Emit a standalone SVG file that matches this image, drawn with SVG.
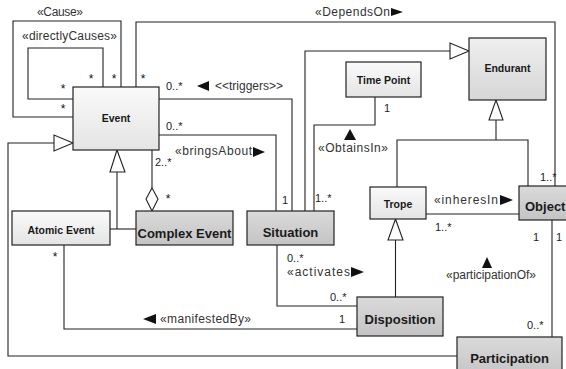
<svg xmlns="http://www.w3.org/2000/svg" width="566" height="369" viewBox="0 0 566 369">
  <defs>
    <linearGradient id="gLight" x1="0" y1="0" x2="0" y2="1">
      <stop offset="0" stop-color="#fafafa"/>
      <stop offset="1" stop-color="#e4e4e4"/>
    </linearGradient>
    <linearGradient id="gMid" x1="0" y1="0" x2="0" y2="1">
      <stop offset="0" stop-color="#efefef"/>
      <stop offset="1" stop-color="#d6d6d6"/>
    </linearGradient>
    <linearGradient id="gDark" x1="0" y1="0" x2="0" y2="1">
      <stop offset="0" stop-color="#dadada"/>
      <stop offset="1" stop-color="#c4c4c4"/>
    </linearGradient>
    <style>
      .box { stroke: #222; stroke-width: 1.2; }
      .light { fill: url(#gLight); }
      .mid { fill: url(#gMid); }
      .dark { fill: url(#gDark); }
      .wire { fill: none; stroke: #222; stroke-width: 1.1; }
      .hollow { fill: #fff; stroke: #222; stroke-width: 1.1; }
      .dir { fill: #111; }
      .nm { font-family: "Liberation Sans", Arial, sans-serif; font-weight: bold; fill: #1a1a1a; text-anchor: middle; }
      .sm { font-size: 10.5px; }
      .lg { font-size: 13px; }
      .lbl { font-family: "Liberation Sans", Arial, sans-serif; font-size: 12px; fill: #333; }
      .mul { font-family: "Liberation Sans", Arial, sans-serif; font-size: 11px; fill: #222; }
      .ast { font-family: "Liberation Sans", Arial, sans-serif; font-size: 12px; fill: #111; text-anchor: middle; }
    </style>
  </defs>
  <rect width="566" height="369" fill="#fff"/>

  <!-- connectors -->
  <g id="connectors">
    <!-- Cause self-association -->
    <polyline class="wire" points="121,87 121,21 13,21 13,117 73,117"/>
    <!-- directlyCauses self-association -->
    <polyline class="wire" points="103,87 103,48 28,48 28,99 73,99"/>
    <!-- DependsOn -->
    <polyline class="wire" points="136,87 136,22 555,22 555,186"/>
    <!-- triggers -->
    <polyline class="wire" points="159,99 292,99 292,211"/>
    <!-- bringsAbout -->
    <polyline class="wire" points="159,135 276,135 276,211"/>
    <!-- Situation generalizes to Endurant -->
    <polyline class="wire" points="305,211 305,51 450,51"/>
    <polygon class="hollow" points="469,51 450,43 450,59"/>
    <!-- ObtainsIn -->
    <polyline class="wire" points="314,211 314,125 375,125 375,97"/>
    <!-- Trope / Object generalize to Endurant -->
    <polygon class="hollow" points="496,100 489,120 503,120"/>
    <polyline class="wire" points="496,120 496,140"/>
    <polyline class="wire" points="397,187 397,140 528,140 528,186"/>
    <!-- inheresIn -->
    <line class="wire" x1="426" y1="214" x2="519" y2="214"/>
    <!-- Disposition generalizes to Trope -->
    <polygon class="hollow" points="395.5,219 388,240 403,240"/>
    <line class="wire" x1="395.5" y1="240" x2="395.5" y2="297"/>
    <!-- activates -->
    <polyline class="wire" points="277,245 277,306 357,306"/>
    <!-- manifestedBy -->
    <polyline class="wire" points="64,245 64,329 357,329"/>
    <!-- Participation generalizes to Event -->
    <polyline class="wire" points="457,356 8,356 8,143 54,143"/>
    <polygon class="hollow" points="73,143 54,135 54,151"/>
    <!-- participationOf -->
    <line class="wire" x1="552" y1="220" x2="552" y2="337"/>
    <!-- Atomic / Complex Event generalize to Event -->
    <polygon class="hollow" points="117,150 110,172 125,172"/>
    <line class="wire" x1="117" y1="172" x2="117" y2="229"/>
    <line class="wire" x1="110" y1="229" x2="136" y2="229"/>
    <!-- Complex Event aggregates Events -->
    <line class="wire" x1="152" y1="150" x2="152" y2="188"/>
    <polygon class="hollow" points="152,188 158,199 152,211 146,199"/>

    <!-- reading-direction arrows -->
    <polygon class="dir" points="403,12 391,8 391,16"/>
    <polygon class="dir" points="197,86 209,81 209,91"/>
    <polygon class="dir" points="265,152 253,147 253,157"/>
    <polygon class="dir" points="350,129 344,140 356,140"/>
    <polygon class="dir" points="513,200 500,195 500,205"/>
    <polygon class="dir" points="364,272 351,267 351,277"/>
    <polygon class="dir" points="143,319 156,314 156,324"/>
    <polygon class="dir" points="487,257 482,268 492,268"/>

    <!-- association labels -->
    <text class="lbl" x="37" y="16" textLength="46">«Cause»</text>
    <text class="lbl" x="22" y="40" textLength="95">«directlyCauses»</text>
    <text class="lbl" x="315" y="16" textLength="75">«DependsOn</text>
    <text class="lbl" x="215" y="90" textLength="68">&lt;&lt;triggers&gt;&gt;</text>
    <text class="lbl" x="175" y="155" textLength="77">«bringsAbout</text>
    <text class="lbl" x="318" y="152" textLength="70">«ObtainsIn»</text>
    <text class="lbl" x="434" y="204" textLength="64">«inheresIn</text>
    <text class="lbl" x="287" y="276" textLength="63">«activates</text>
    <text class="lbl" x="160" y="323" textLength="91">«manifestedBy»</text>
    <text class="lbl" x="446" y="279" textLength="90">«participationOf»</text>

    <!-- multiplicities -->
    <text class="ast" x="91" y="83">*</text>
    <text class="ast" x="114" y="83">*</text>
    <text class="ast" x="63" y="93">*</text>
    <text class="ast" x="63" y="113">*</text>
    <text class="ast" x="143" y="83">*</text>
    <text class="ast" x="168" y="203">*</text>
    <text class="ast" x="55" y="261">*</text>
    <text class="mul" x="166" y="90">0..*</text>
    <text class="mul" x="166" y="130">0..*</text>
    <text class="mul" x="155" y="166">2..*</text>
    <text class="mul" x="282" y="204">1</text>
    <text class="mul" x="315" y="202">1..*</text>
    <text class="mul" x="384" y="112">1</text>
    <text class="mul" x="540" y="181">1..*</text>
    <text class="mul" x="435" y="231">1..*</text>
    <text class="mul" x="533" y="241">1</text>
    <text class="mul" x="556" y="241">1</text>
    <text class="mul" x="287" y="262">0..*</text>
    <text class="mul" x="330" y="301">0..*</text>
    <text class="mul" x="339" y="323">1</text>
    <text class="mul" x="527" y="329">0..*</text>
  </g>

  <!-- classes -->
  <g id="event">
    <rect class="box light" x="73" y="87" width="86" height="63"/>
    <text class="nm sm" x="116" y="122">Event</text>
  </g>
  <g id="atomic-event">
    <rect class="box light" x="12" y="211" width="98" height="34"/>
    <text class="nm sm" x="61" y="234">Atomic Event</text>
  </g>
  <g id="complex-event">
    <rect class="box dark" x="136" y="211" width="97" height="34"/>
    <text class="nm lg" x="184.5" y="238">Complex Event</text>
  </g>
  <g id="situation">
    <rect class="box dark" x="247" y="211" width="87" height="34"/>
    <text class="nm lg" x="290.5" y="237">Situation</text>
  </g>
  <g id="time-point">
    <rect class="box light" x="346" y="62" width="75" height="35"/>
    <text class="nm sm" x="383.5" y="84">Time Point</text>
  </g>
  <g id="endurant">
    <rect class="box mid" x="469" y="38" width="77" height="62"/>
    <text class="nm sm" x="507.5" y="72">Endurant</text>
  </g>
  <g id="trope">
    <rect class="box light" x="370" y="187" width="56" height="32"/>
    <text class="nm sm" x="398" y="208">Trope</text>
  </g>
  <g id="object">
    <rect class="box dark" x="519" y="186" width="62" height="34"/>
    <text class="nm lg" x="525" y="211" style="text-anchor:start">Object</text>
  </g>
  <g id="disposition">
    <rect class="box dark" x="357" y="297" width="86" height="39"/>
    <text class="nm lg" x="400" y="324">Disposition</text>
  </g>
  <g id="participation">
    <rect class="box dark" x="457" y="337" width="105" height="40"/>
    <text class="nm lg" x="509.5" y="363">Participation</text>
  </g>
</svg>
